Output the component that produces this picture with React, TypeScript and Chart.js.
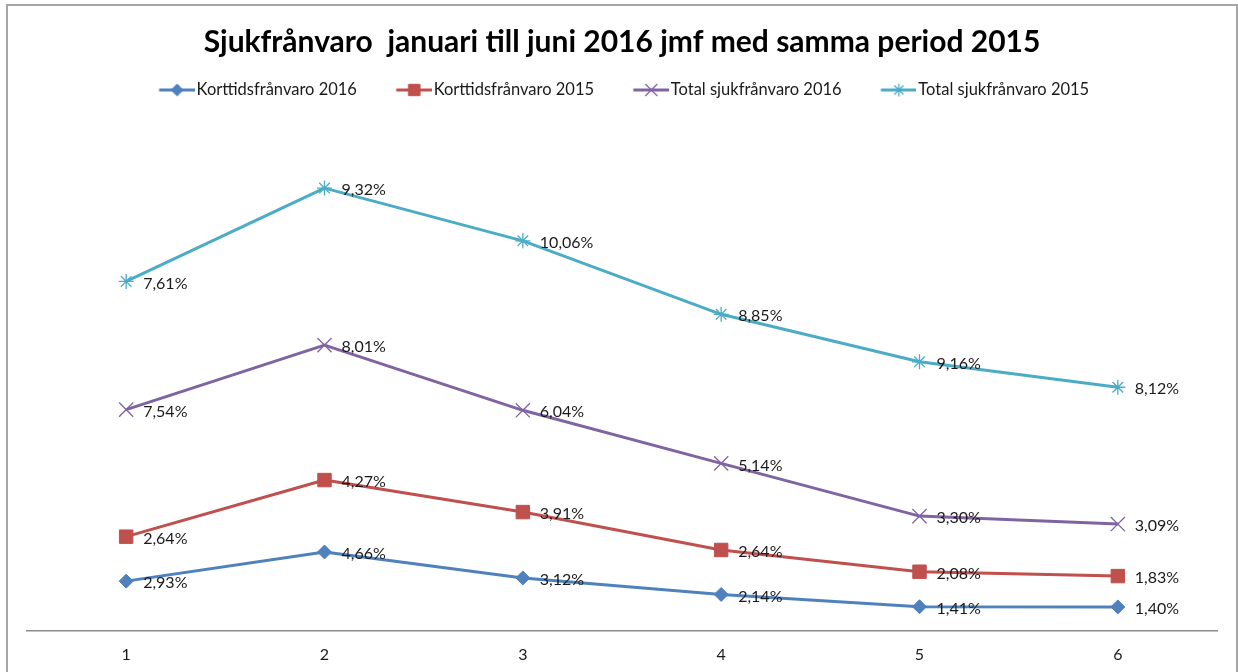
import React, { useEffect, useRef } from 'react';
import { Chart, registerables } from 'chart.js';
import { drawPoint } from 'chart.js/helpers';

Chart.register(...registerables);

const titleText = 'Sjukfrånvaro  januari till juni 2016 jmf med samma period 2015';
const categories = ['1', '2', '3', '4', '5', '6'];
const seriesNames = ['Korttidsfrånvaro 2016', 'Korttidsfrånvaro 2015', 'Total sjukfrånvaro 2016', 'Total sjukfrånvaro 2015'];
const kort2016 = [2.93, 4.66, 3.12, 2.14, 1.41, 1.40];
const kort2015 = [2.64, 4.27, 3.91, 2.64, 2.08, 1.83];
const total2016 = [7.54, 8.01, 6.04, 5.14, 3.30, 3.09];
const total2015 = [7.61, 9.32, 10.06, 8.85, 9.16, 8.12];

const colors = ['#4F81BD', '#C0504D', '#8064A2', '#4BACC6'];
const markerStyles = ['rectRot', 'rect', 'crossRot', 'star'];
const markerRadius = [7, 9.5, 10, 7.5];
const markerBorder = [1, 1, 1.3, 1.3];

const FONT = 'Lato, "Noto Sans", sans-serif';
const LEGEND_SIZE = 16.5;

function makeLegendIcon(i: number, boxWidth: number): HTMLCanvasElement {
  const c = document.createElement('canvas');
  const w = boxWidth + 13;
  const h = 20;
  c.width = w;
  c.height = h;
  const ctx = c.getContext('2d')!;
  const lineLen = 36;
  ctx.strokeStyle = colors[i];
  ctx.lineWidth = 3;
  ctx.beginPath();
  ctx.moveTo(w - lineLen, h / 2);
  ctx.lineTo(w, h / 2);
  ctx.stroke();
  ctx.fillStyle = colors[i];
  ctx.strokeStyle = colors[i];
  ctx.lineWidth = markerBorder[i];
  drawPoint(ctx as any, { pointStyle: markerStyles[i] as any, radius: markerRadius[i] * 0.85, borderWidth: markerBorder[i], rotation: 0 } as any, w - lineLen / 2, h / 2);
  return c;
}

const borderPlugin = {
  id: 'outerBorder',
  beforeDraw(chart: any) {
    const ctx = chart.ctx;
    ctx.save();
    ctx.fillStyle = '#ffffff';
    ctx.fillRect(0, 0, chart.width, chart.height);
    ctx.strokeStyle = '#a6a6a6';
    ctx.lineWidth = 2;
    ctx.strokeRect(7, 5, 1230, 700);
    ctx.restore();
  },
};

const labelPlugin = {
  id: 'valueLabels',
  afterDatasetsDraw(chart: any) {
    const ctx = chart.ctx;
    ctx.save();
    ctx.font = '16px ' + FONT;
    ctx.fillStyle = '#1a1a1a';
    ctx.textAlign = 'left';
    ctx.textBaseline = 'middle';
    chart.data.datasets.forEach((ds: any, di: number) => {
      const meta = chart.getDatasetMeta(di);
      meta.data.forEach((pt: any, j: number) => {
        const v = ds.data[j] as number;
        const txt = v.toFixed(2).replace('.', ',') + '%';
        ctx.fillText(txt, pt.x + 17, pt.y + 2);
      });
    });
    ctx.restore();
  },
};

export default function App() {
  const ref = useRef<HTMLCanvasElement | null>(null);

  useEffect(() => {
    if (!ref.current) return;
    const BOXW = 33.5;
    const icons = [0, 1, 2, 3].map((i) => makeLegendIcon(i, BOXW));
    const values = [kort2016, kort2015, total2016, total2015];
    const chart = new Chart(ref.current, {
      type: 'line',
      data: {
        labels: categories,
        datasets: values.map((arr, i) => ({
          label: seriesNames[i],
          data: arr,
          borderColor: colors[i],
          backgroundColor: colors[i],
          borderWidth: 3,
          tension: 0,
          fill: false,
          pointStyle: markerStyles[i] as any,
          pointRadius: markerRadius[i],
          pointBorderWidth: markerBorder[i],
          pointBackgroundColor: colors[i],
          pointBorderColor: colors[i],
          borderJoinStyle: 'round' as const,
        })),
      },
      options: {
        responsive: false,
        animation: false,
        events: [],
        layout: { padding: { left: 27, right: 21, top: 0, bottom: -7.7 } },
        plugins: {
          tooltip: { enabled: false },
          title: {
            display: true,
            text: titleText,
            color: '#000000',
            font: { family: FONT, size: 30, weight: 'bold' },
            padding: { top: 24, bottom: -13.25 },
          },
          legend: {
            display: true,
            position: 'top',
            labels: {
              usePointStyle: true,
              pointStyleWidth: BOXW,
              padding: 35,
              color: '#1a1a1a',
              font: { family: FONT, size: LEGEND_SIZE },
              generateLabels: () =>
                seriesNames.map((n, i) => ({
                  text: n,
                  pointStyle: icons[i] as any,
                  fillStyle: colors[i],
                  strokeStyle: colors[i],
                  lineWidth: 0,
                  hidden: false,
                  datasetIndex: i,
                  fontColor: '#1a1a1a',
                })),
            },
          },
        },
        scales: {
          x: {
            offset: true,
            grid: { display: false, drawTicks: false },
            border: { display: true, color: '#8c8c8c', width: 1.5 },
            ticks: { color: '#1a1a1a', font: { family: FONT, size: 16 }, padding: 15 },
          },
          y: {
            display: false,
            stacked: true,
            min: 0,
            max: 31,
          },
        },
      },
      plugins: [borderPlugin, labelPlugin],
    });
    return () => chart.destroy();
  }, []);

  return (
    <div style={{ position: 'absolute', left: 0, top: 0, width: 1238, height: 672, overflow: 'hidden' }}>
      <canvas ref={ref} width={1238} height={672} style={{ display: 'block', width: 1238, height: 672 }} />
    </div>
  );
}
